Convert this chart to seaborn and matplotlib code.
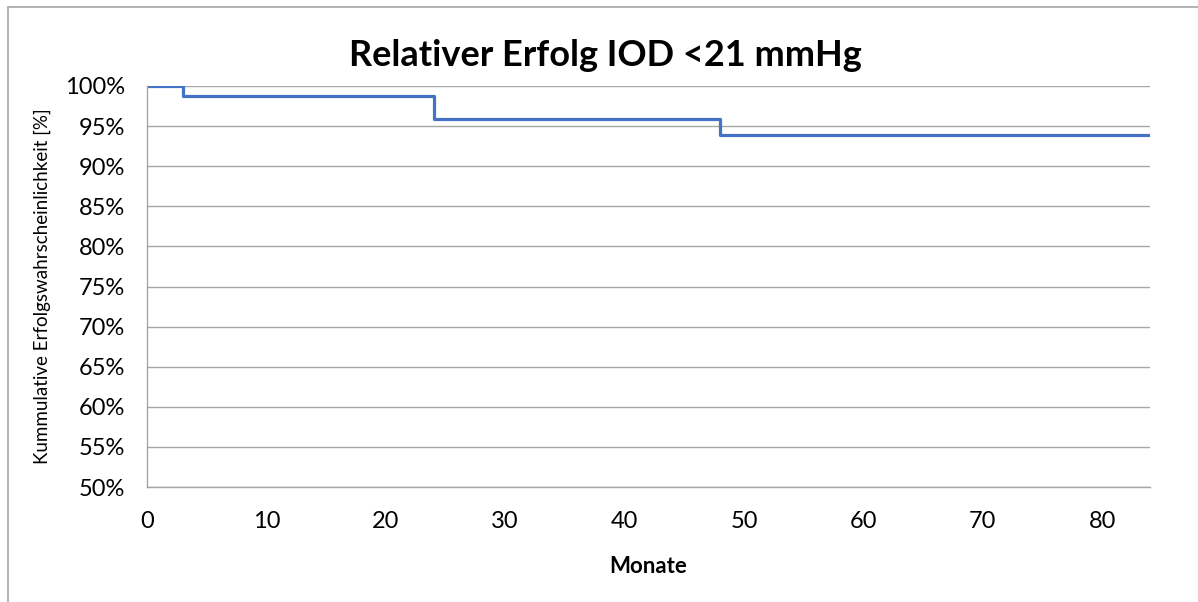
import matplotlib
matplotlib.use("Agg")
import matplotlib.pyplot as plt
import seaborn as sns
import pandas as pd
from matplotlib.ticker import FuncFormatter, MultipleLocator
from matplotlib.lines import Line2D

months = [0, 3, 24, 48, 84]
success_pct = [100.0, 98.7, 95.9, 93.9, 93.9]
title = "Relativer Erfolg IOD <21 mmHg"
xlabel = "Monate"
ylabel = "Kummulative Erfolgswahrscheinlichkeit [%]"

df = pd.DataFrame({"Monate": months, "Erfolg": success_pct})

sns.set_theme(style="white")
plt.rcParams['font.family'] = ['Lato', 'DejaVu Sans']
plt.rcParams['text.color'] = 'black'
plt.rcParams['axes.labelcolor'] = 'black'

fig = plt.figure(figsize=(11.98, 6.02), dpi=100)
ax = fig.add_axes([147/1198, 1-487/602, (1150-147)/1198, (487-86)/602])

sns.lineplot(data=df, x="Monate", y="Erfolg", ax=ax, drawstyle="steps-post",
             color="#4472C4", linewidth=2.3)

ax.set_xlim(0, 84)
ax.set_ylim(50, 100)
ax.xaxis.set_major_locator(MultipleLocator(10))
ax.yaxis.set_major_locator(MultipleLocator(5))
ax.yaxis.set_major_formatter(FuncFormatter(lambda v, p: f"{int(round(v))}%"))
ax.grid(axis="y", color="#A6A6A6", linewidth=1.0)
ax.grid(axis="x", visible=False)
ax.set_axisbelow(True)
for s in ["top", "right"]:
    ax.spines[s].set_visible(False)
for s in ["left", "bottom"]:
    ax.spines[s].set_color("#A6A6A6")
    ax.spines[s].set_linewidth(1.0)
ax.tick_params(axis="both", which="major", direction="out", length=3.6, width=1,
               color="#A6A6A6", labelsize=17, labelcolor="black")
ax.tick_params(axis="y", pad=12)
ax.tick_params(axis="x", pad=14)

ax.set_xlabel(xlabel, fontsize=16, fontweight="bold", labelpad=17, color="black")
ax.set_ylabel(ylabel, fontsize=13.5, labelpad=10, color="black")
fig.text(605/1198, 1 - 55/602, title, ha="center", va="center",
         fontsize=26, fontweight="bold", color="black")

fig.lines.append(Line2D([8/1198, 8/1198], [0, 1 - 6.5/602], transform=fig.transFigure,
                        color="#A6A6A6", linewidth=1.2))
fig.lines.append(Line2D([8/1198, 1], [1 - 6.5/602, 1 - 6.5/602], transform=fig.transFigure,
                        color="#A6A6A6", linewidth=1.2))

fig.savefig("out.png", dpi=100)
